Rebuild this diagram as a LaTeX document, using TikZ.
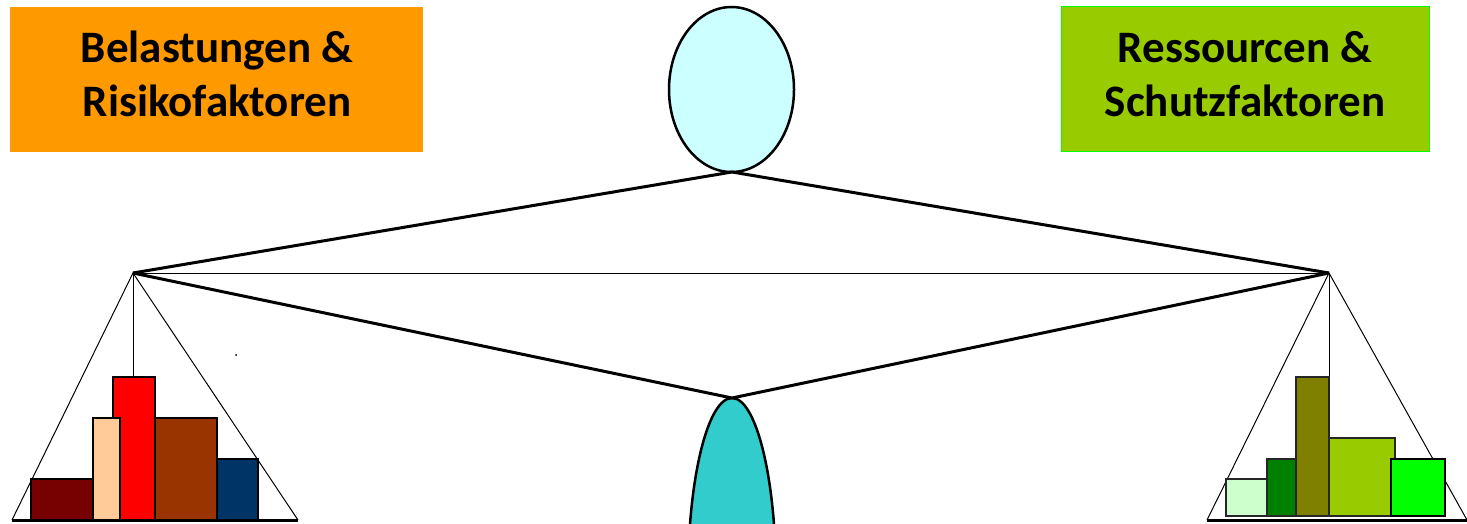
\documentclass[tikz,border=0pt]{standalone}
\usepackage{fontspec}
\setmainfont{Carlito}
\usetikzlibrary{shapes.geometric}
\definecolor{orangebox}{HTML}{FF9900}
\definecolor{greenbox}{HTML}{99CC00}
\definecolor{headc}{HTML}{CCFFFF}
\definecolor{bodyc}{HTML}{33CCCC}
\definecolor{cDarkRed}{HTML}{770000}
\definecolor{cPeach}{HTML}{FFCC99}
\definecolor{cRed}{HTML}{FF0000}
\definecolor{cBrown}{HTML}{993300}
\definecolor{cNavy}{HTML}{003366}
\definecolor{cLight}{HTML}{CCFFCC}
\definecolor{cGreen}{HTML}{008000}
\definecolor{cOlive}{HTML}{808000}
\definecolor{cYG}{HTML}{99CC00}
\definecolor{cLime}{HTML}{00FF00}
\tikzset{
  label box/.style={minimum width=#1, minimum height=145pt, inner sep=0pt},
  label text/.style={align=center, inner sep=0pt, font=\fontsize{45}{54}\selectfont\bfseries},
  beam/.style={line width=3pt, line join=round},
  thinline/.style={line width=1pt},
  bar/.style={draw=black, line width=2.2pt},
  rbar/.style={draw=black!85, line width=1.6pt},
}
\begin{document}
\begin{tikzpicture}[x=1pt,y=-1pt]
\useasboundingbox (0,0) rectangle (1467,524);
% label boxes
\node[label box=413pt, fill=orangebox] (risk) at (216.5,79.5) {};
\node[label text] (risktext) at (217,74) {Belastungen \&\\Risikofaktoren};
\node[label box=368pt, fill=greenbox, draw=cLime, line width=1pt] (res) at (1245,79.5) {};
\node[label text] (restext) at (1245,74) {Ressourcen \&\\Schutzfaktoren};
% key points
\coordinate (top) at (732,172);
\coordinate (lp) at (133,273);
\coordinate (rp) at (1329,273);
\coordinate (bot) at (732,398);
% body
\begin{scope}
\clip (0,0) rectangle (1467,524);
\draw[fill=bodyc, line width=2.5pt] (732,578) ellipse [x radius=44, y radius=180];
\end{scope}
% head
\node[ellipse, draw=black, line width=2.5pt, fill=headc, minimum width=125pt, minimum height=165pt, inner sep=0pt] (head) at (731.5,89.5) {};
% beams
\draw[thinline] (lp) -- (rp);
\draw[beam] (lp) -- (top) -- (rp);
\draw[beam] (lp) -- (bot) -- (rp);
% left scale
\coordinate (lbl) at (12,520);
\coordinate (lbr) at (298,520);
\draw[thinline] (lbl) -- (lp) -- (lbr);
\draw[thinline] (lp) -- (133,377);
\draw[bar, fill=cDarkRed] (31,479) rectangle (93,520);
\draw[bar, fill=cRed] (113,377) rectangle (155,520);
\draw[bar, fill=cPeach] (93,418) rectangle (120,520);
\draw[bar, fill=cBrown] (155,418) rectangle (217,520);
\draw[bar, fill=cNavy] (217,459) rectangle (258,520);
\draw[line width=3pt] (lbl) -- (lbr);
\fill (236,355) circle (1pt);
% right scale
\coordinate (rbl) at (1207,520);
\coordinate (rbr) at (1467,520);
\draw[thinline] (rbl) -- (rp) -- (rbr);
\draw[thinline] (rp) -- (1329,377);
\draw[rbar, fill=cLight] (1226,479) rectangle (1267,516);
\draw[rbar, fill=cGreen] (1267,459) rectangle (1296,516);
\draw[rbar, fill=cOlive] (1296,377) rectangle (1329,516);
\draw[rbar, fill=cYG] (1329,438) rectangle (1395,516);
\draw[bar, fill=cLime] (1391,459) rectangle (1445,516);
\draw[line width=3pt] (rbl) -- (rbr);
\end{tikzpicture}
\end{document}
